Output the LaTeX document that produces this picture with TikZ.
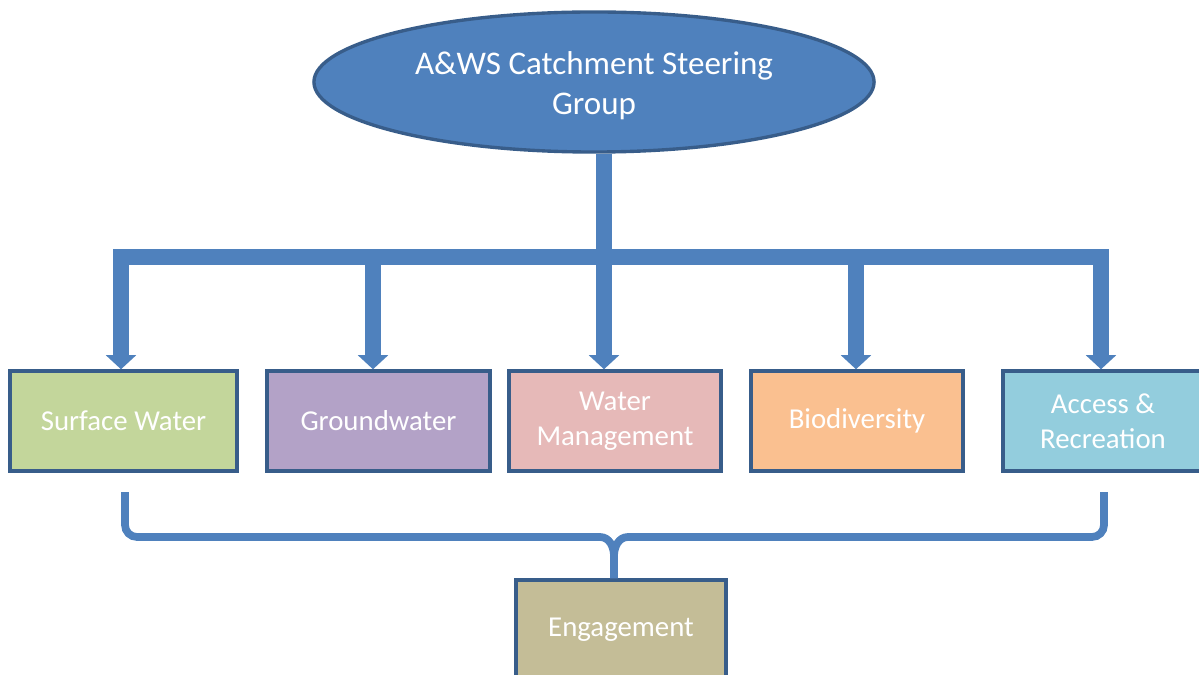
\documentclass[tikz,border=0pt]{standalone}
\usepackage{fontspec}
\setmainfont{Carlito}
\usetikzlibrary{arrows.meta,shapes.geometric}
\definecolor{azul}{HTML}{4f81bd}
\definecolor{borda}{HTML}{385d8a}
\definecolor{verde}{HTML}{c3d69b}
\definecolor{lilas}{HTML}{b3a2c7}
\definecolor{rosa}{HTML}{e6b9b8}
\definecolor{laranja}{HTML}{fac090}
\definecolor{ciano}{HTML}{93cddd}
\definecolor{areia}{HTML}{c4bd97}

\begin{document}
\begin{tikzpicture}[x=0.025cm,y=-0.025cm,
  >={Triangle[width=21pt,length=10pt]},
  grp/.style={ellipse, draw=borda, fill=azul, line width=2.4pt, minimum width=14cm, minimum height=3.5cm, text=white, align=center, font=\fontsize{23.5}{28.5}\selectfont},
  box/.style={draw=borda, line width=2.4pt, minimum height=2.5cm, text=white, align=center, font=\fontsize{20.5}{25}\selectfont},
  bar/.style={draw=azul, line width=10.7pt},
  brace/.style={draw=azul, line width=5.5pt}]
\useasboundingbox (0,0) rectangle (1199,675);
\clip (0,0) rectangle (1199,675);
% grupo
\node[grp] (top) at (594,82) {};
\node[text=white, align=center, font=\fontsize{23.5}{28.5}\selectfont] (toplbl) at (594,86) {A\&WS Catchment Steering\\Group};
% temas
\node[box, fill=verde, minimum width=5.675cm] (sw) at (123.5,421) {Surface Water};
\node[box, fill=lilas, minimum width=5.575cm] (gw) at (378.5,421) {Groundwater};
\node[box, fill=rosa, minimum width=5.3cm] (wm) at (615,421) {Water\\Management};
\node[box, fill=laranja, minimum width=5.3cm] (bio) at (857,421) {Biodiversity};
\node[box, fill=ciano, minimum width=5cm] (acc) at (1103,421) {Access \&\\Recreation};
\node[box, fill=areia, minimum width=5.25cm] (eng) at (621,630) {Engagement};
% barra de ligacao
\coordinate (b1) at (121,257);
\coordinate (b2) at (373,257);
\coordinate (b3) at (604,257);
\coordinate (b4) at (856,257);
\coordinate (b5) at (1101,257);
\draw[bar] (top.south -| b3) -- (b3);
\draw[bar, line join=miter, <->] (b1 |- sw.north) -- (b1) -- (b5) -- (b5 |- acc.north);
\draw[bar, ->] (b2) -- (b2 |- gw.north);
\draw[bar, ->] (b3) -- (b3 |- wm.north);
\draw[bar, ->] (b4) -- (b4 |- bio.north);
% chaveta
\coordinate (k1) at (125,492);
\coordinate (k2) at (1104,492);
\coordinate (k0) at (614,537);
\draw[brace] (k1) -- (125,525) to[out=-90,in=180] (137,537) -- (600,537)
  to[out=0,in=90] (k0 |- 0,556) -- (k0 |- eng.north);
\draw[brace] (k2) -- (1104,525) to[out=-90,in=0] (1092,537) -- (628,537)
  to[out=180,in=90] (k0 |- 0,556);
\end{tikzpicture}
\end{document}
